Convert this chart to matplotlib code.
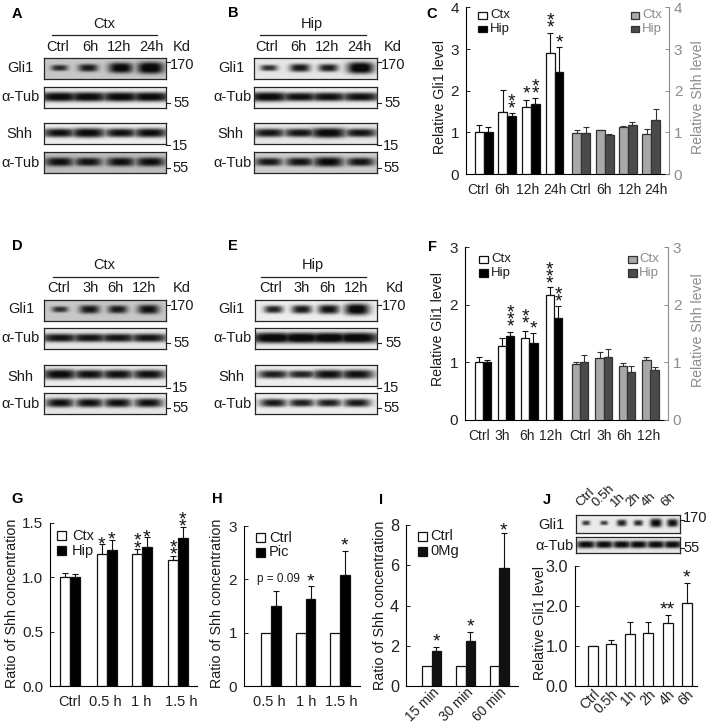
#recreate multi panel figure: western blots and bar charts
import numpy as np
import matplotlib
matplotlib.use('Agg')
import matplotlib.pyplot as plt
from matplotlib.lines import Line2D
from matplotlib.patches import Rectangle

plt.rcParams['font.family'] = ['Liberation Sans', 'DejaVu Sans']

W, H = 709, 726

# blot band strengths (0-1), one per lane
blot_a = [[.25, .45, .8, .95], [.7, .7, .7, .7], [.6, .7, .6, .65], [.6, .55, .6, .62]]
blot_b = [[.25, .5, .45, .95], [.7, .6, .6, .6], [.55, .55, .75, .55], [.5, .55, .7, .55]]
blot_d = [[.2, .5, .45, .6], [.55, .55, .55, .55], [.7, .6, .6, .6], [.6, .6, .6, .6]]
blot_e = [[.4, .5, .6, .85], [.85, .85, .85, .85], [.45, .4, .6, .6], [.5, .45, .45, .5]]
blot_j = [[.15, .1, .4, .3, .7, .6], [.7, .7, .7, .7, .7, .7]]

# panel C
labels_c = ['Ctrl', '6h', '12h', '24h', 'Ctrl', '6h', '12h', '24h']
c_gli_ctx = [1.0, 1.5, 1.6, 2.9]
c_gli_ctx_err = [.17, .52, .18, .48]
c_gli_hip = [1.0, 1.4, 1.67, 2.45]
c_gli_hip_err = [.12, .07, .15, .6]
c_shh_ctx = [.98, 1.05, 1.13, .97]
c_shh_ctx_err = [.07, .01, .02, .10]
c_shh_hip = [.99, .93, 1.18, 1.3]
c_shh_hip_err = [.14, .04, .06, .27]

# panel F
labels_f = ['Ctrl', '3h', '6h', '12h', 'Ctrl', '3h', '6h', '12h']
f_gli_ctx = [1.01, 1.29, 1.43, 2.17]
f_gli_ctx_err = [.08, .13, .11, .14]
f_gli_hip = [1.01, 1.46, 1.34, 1.78]
f_gli_hip_err = [.03, .07, .17, .2]
f_shh_ctx = [.98, 1.08, .94, 1.05]
f_shh_ctx_err = [.02, .1, .05, .04]
f_shh_hip = [1.01, 1.10, .84, .87]
f_shh_hip_err = [.12, .13, .09, .05]

# panel G
labels_g = ['Ctrl', '0.5 h', '1 h', '1.5 h']
g_ctx = [1.0, 1.21, 1.21, 1.16]
g_ctx_err = [.04, .09, .05, .03]
g_hip = [1.0, 1.25, 1.28, 1.36]
g_hip_err = [.03, .09, .09, .10]

# panel H
labels_h = ['0.5 h', '1 h', '1.5 h']
h_ctrl = [1, 1, 1]
h_pic = [1.5, 1.64, 2.08]
h_pic_err = [.28, .24, .45]

# panel I
labels_i = ['15 min', '30 min', '60 min']
i_ctrl = [1, 1, 1]
i_mg = [1.72, 2.22, 5.85]
i_mg_err = [.23, .46, 1.75]

# panel J
labels_j = ['Ctrl', '0.5h', '1h', '2h', '4h', '6h']
j_gli = [1, 1.06, 1.31, 1.34, 1.58, 2.09]
j_gli_err = [0, .11, .29, .26, .2, .5]

fig = plt.figure(figsize=(W / 100, H / 100), dpi=100, facecolor='white')


def txt(x, y, s, size=10.5, color='#1a1a1a', ha='center', va='center', **kw):
    return fig.text(x / W, 1 - y / H, s, fontsize=size, color=color, ha=ha, va=va, **kw)


def hline(x0, y0, x1, y1, color='#222222', lw=0.8):
    fig.add_artist(Line2D([x0 / W, x1 / W], [1 - y0 / H, 1 - y1 / H], color=color, lw=lw))


# draw one blot strip from band strengths
def blot(left, top, right, bottom, lanes, strengths, bg, wide=1.0):
    ax = fig.add_axes([left / W, 1 - bottom / H, (right - left) / W, (bottom - top) / H])
    w, h = int(right - left) * 3, int(bottom - top) * 3
    xx, yy = np.meshgrid(np.linspace(0, 1, w), np.linspace(0, 1, h))
    dark = np.zeros_like(xx)
    for c, s in zip(lanes, strengths):
        hw = (.055 + .055 * s) * wide
        hh = .10 + .19 * s
        d = (.7 + .4 * s) * np.exp(-np.abs((xx - c) / hw) ** 3 - np.abs((yy - .47) / hh) ** 3)
        dark = np.maximum(dark, d)
    img = bg * (1 - np.clip(dark, 0, .95))
    ax.imshow(img, cmap='gray', vmin=0, vmax=1, aspect='auto', extent=(0, 1, 1, 0), interpolation='bilinear')
    ax.set_xticks([])
    ax.set_yticks([])
    for s in ax.spines.values():
        s.set_linewidth(0.9)
        s.set_color('#262626')


# group of four blot strips with all their labels
def blot_panel(x0, x1, ys, lanes, rows, bgs, lane_xs, lane_names, lane_y, row_xs, row_ys, mark_x, mark_ys, kd_x, title, title_x, title_y, line):
    for (t, b), row, bg, wide in zip(ys, rows, bgs, [1, 1.9, 1.6, 1.35]):
        blot(x0, t, x1, b, lanes, row, bg, wide)
    for x, s in zip(lane_xs, lane_names):
        txt(x, lane_y, s)
    txt(kd_x, lane_y, 'Kd')
    for x, y, s in zip(row_xs, row_ys, ['Gli1', 'α-Tub', 'Shh', 'α-Tub']):
        txt(x, y, s)
    for x, (ty, y), s in zip(mark_x, mark_ys, ['170', '55', '15', '55']):
        hline(x1, ty, x1 + 4, ty)
        txt(x, y, s)
    txt(title_x, title_y, title)
    hline(line[0], line[2], line[1], line[2], lw=0.9)


# axes placed in pixel coordinates
def make_axis(left, top, right, bottom, xlim, ylim, yticks, ylabs, xticks, xlabs, ysize=11, xsize=10, xpad=6.5):
    ax = fig.add_axes([left / W, 1 - bottom / H, (right - left) / W, (bottom - top) / H])
    ax.set_xlim(*xlim)
    ax.set_ylim(*ylim)
    ax.set_yticks(yticks)
    ax.set_yticklabels(ylabs)
    ax.set_xticks(xticks)
    ax.set_xticklabels(xlabs)
    ax.tick_params(axis='y', direction='in', length=3, width=0.7, labelsize=ysize, pad=5, colors='#222222')
    ax.tick_params(axis='x', length=0, labelsize=xsize, pad=xpad, colors='#222222')
    ax.spines['top'].set_visible(False)
    ax.spines['right'].set_visible(False)
    ax.spines['left'].set_linewidth(0.8)
    ax.spines['bottom'].set_linewidth(0.8)
    ax.patch.set_alpha(0)
    return ax


def bars(ax, xs, vals, errs, width, face, edge='#111111'):
    ax.bar(xs, vals, width, color=face, edgecolor=edge, linewidth=0.9, zorder=3)
    if errs is not None:
        ax.errorbar(xs, vals, yerr=[np.zeros(len(errs)), errs], fmt='none', ecolor=edge,
                    elinewidth=0.8, capsize=2, capthick=0.8, zorder=2)


# stars centred on a data height, stacked upward
def stars(ax, xs, counts, ys, step=7.2, size=14):
    off = size * 100 / 72 * 0.58
    for x, n, y in zip(xs, counts, ys):
        for k in range(n):
            ax.annotate('*', xy=(x, y), xytext=(0, k * step - off), textcoords='offset pixels',
                        ha='center', va='baseline', fontsize=size, color='#111111', annotation_clip=False)


def legend_key(x0, y0, x1, y1, face, label, tx, color='#1a1a1a', edge='#111111', size=9.5):
    fig.add_artist(Rectangle((x0 / W, 1 - y1 / H), (x1 - x0) / W, (y1 - y0) / H, transform=fig.transFigure,
                             facecolor=face, edgecolor=edge, linewidth=0.9))
    txt(tx, (y0 + y1) / 2, label, size=size, color=color, ha='left')


def gray_axis(ax, top, ticks, size=11):
    ax2 = ax.twinx()
    ax2.set_ylim(0, top)
    ax2.set_yticks(ticks)
    ax2.tick_params(axis='y', direction='in', length=3, width=0.7, labelsize=size, pad=3.5, colors='#8c8c8c')
    for s in ['top', 'left', 'bottom']:
        ax2.spines[s].set_visible(False)
    ax2.spines['right'].set_color('#8c8c8c')
    return ax2


# blots A, B, D, E
names_ab = ['Ctrl', '6h', '12h', '24h']
names_de = ['Ctrl', '3h', '6h', '12h']
ys_top = [(58, 79), (87, 108), (123, 144), (152, 173)]
ys_mid = [(300, 321), (328, 349), (365, 386), (393, 414)]
row_y_top = [68, 97, 134, 163]
row_y_mid = [309, 338, 377, 404]
mark_top = [(62, 65), (103, 103), (145, 146), (168, 168)]
mark_mid = [(305, 306), (343, 343), (388, 388), (408, 408)]

blot_panel(44, 166, ys_top, [.126, .359, .625, .866], blot_a, [.78, .93, .93, .74],
           [58, 90, 119, 151], names_ab, 47, [20, 21, 19, 21], row_y_top,
           [182, 182, 180, 181], mark_top, 182, 'Ctx', 104, 24, (52, 157, 35))
blot_panel(254, 377, ys_top, [.12, .37, .6, .86], blot_b, [.9, .93, .9, .8],
           [267, 298, 327, 359], names_ab, 47, [231, 232, 230, 232], row_y_top,
           [393, 393, 391, 392], mark_top, 393, 'Hip', 312, 24, (260, 366, 35))
blot_panel(44, 166, ys_mid, [.13, .37, .6, .85], blot_d, [.78, .9, .93, .9],
           [59, 91, 115, 144], names_de, 288, [21, 21, 20, 21], row_y_mid,
           [182, 182, 180, 181], mark_mid, 182, 'Ctx', 104, 265, (53, 158, 277))
blot_panel(255, 377, ys_mid, [.15, .38, .6, .83], blot_e, [.93, .93, .93, .93],
           [271, 302, 327, 356], names_de, 288, [231, 232, 231, 232], row_y_mid,
           [394, 394, 391, 392], mark_mid, 395, 'Hip', 313, 265, (261, 366, 277))

# panel C
pos_c = np.array([0, 1, 2, 3, 4.14, 5.13, 6.11, 7.1])
tick_c = [-.24, .76, 1.85, 3.01, 4.07, 5.1, 6.18, 7.28]
ax = make_axis(466, 7.5, 669, 174, (-.75, 7.85), (0, 4), [0, 1, 2, 3, 4], ['0', '1', '2', '3', '4'], tick_c, labels_c)
bars(ax, pos_c[:4] - .19, c_gli_ctx, c_gli_ctx_err, .38, 'white')
bars(ax, pos_c[:4] + .19, c_gli_hip, c_gli_hip_err, .38, '#000000')
bars(ax, pos_c[4:] - .19, c_shh_ctx, c_shh_ctx_err, .38, '#a8a8a8', '#333333')
bars(ax, pos_c[4:] + .19, c_shh_hip, c_shh_hip_err, .38, '#4a4a4a', '#333333')
stars(ax, pos_c[:4] - .19, [0, 0, 1, 2], [0, 0, 2.08, 3.66])
stars(ax, pos_c[:4] + .19, [0, 2, 2, 1], [0, 1.72, 2.08, 3.30])
gray_axis(ax, 4, [0, 1, 2, 3, 4])
txt(440, 97, 'Relative Gli1 level', size=10.2, rotation=90)
txt(698, 97, 'Relative Shh level', size=10.2, color='#8c8c8c', rotation=90)
legend_key(478, 12, 487, 19, 'white', 'Ctx', 490)
legend_key(478, 26, 487, 32, '#000000', 'Hip', 490)
legend_key(631, 12, 639, 19, '#a8a8a8', 'Ctx', 642, color='#8c8c8c', edge='#333333')
legend_key(631, 26, 639, 32, '#4a4a4a', 'Hip', 642, color='#8c8c8c', edge='#333333')

# panel F
pos_f = np.array([0, .97, 1.96, 3.0, 4.11, 5.1, 6.08, 7.08])
tick_f = [-.18, .80, 1.85, 2.87, 4.1, 5.13, 5.97, 7.0]
ax = make_axis(465, 247.3, 668, 420, (-.76, 7.82), (0, 3), [0, 1, 2, 3], ['0', '1', '2', '3'], tick_f, labels_f)
bars(ax, pos_f[:4] - .172, f_gli_ctx, f_gli_ctx_err, .345, 'white')
bars(ax, pos_f[:4] + .172, f_gli_hip, f_gli_hip_err, .345, '#000000')
bars(ax, pos_f[4:] - .172, f_shh_ctx, f_shh_ctx_err, .345, '#a8a8a8', '#333333')
bars(ax, pos_f[4:] + .172, f_shh_hip, f_shh_hip_err, .345, '#4a4a4a', '#333333')
stars(ax, pos_f[:4] - .172, [0, 0, 2, 3], [0, 0, 1.78, 2.48])
stars(ax, pos_f[:4] + .172, [0, 3, 1, 2], [0, 1.73, 1.70, 2.16])
gray_axis(ax, 3, [0, 1, 2, 3])
txt(438, 329, 'Relative Gli1 level', size=10.2, rotation=90)
txt(698, 330, 'Relative Shh level', size=10.2, color='#8c8c8c', rotation=90)
legend_key(479, 256, 488, 263, 'white', 'Ctx', 491)
legend_key(479, 269, 488, 277, '#000000', 'Hip', 491)
legend_key(628, 256, 637, 263, '#a8a8a8', 'Ctx', 639, color='#8c8c8c', edge='#333333')
legend_key(628, 269, 637, 277, '#4a4a4a', 'Hip', 639, color='#8c8c8c', edge='#333333')

# panel G
pos_g = np.array([0, 1.02, 2, 3])
ax = make_axis(50, 522.7, 197, 686, (-.556, 3.53), (0, 1.5), [0, .5, 1, 1.5], ['0.0', '0.5', '1.0', '1.5'],
               [0, .98, 1.98, 3.08], labels_g, xsize=10.5)
bars(ax, pos_g - .137, g_ctx, g_ctx_err, .275, 'white')
bars(ax, pos_g + .137, g_hip, g_hip_err, .275, '#000000')
stars(ax, pos_g - .137, [0, 1, 2, 2], [0, 1.356, 1.325, 1.264])
stars(ax, pos_g + .137, [0, 1, 1, 2], [0, 1.40, 1.426, 1.524])
txt(12, 603, 'Ratio of Shh concentration', size=10.3, rotation=90)
legend_key(57, 531, 66, 540, 'white', 'Ctx', 72, size=10.5)
legend_key(57, 546, 66, 555, '#000000', 'Hip', 72, size=10.5)

# panel H
pos_h = np.array([0, 1.01, 2])
ax = make_axis(244, 526, 360, 686, (-.787, 2.59), (0, 3), [0, 1, 2, 3], ['0', '1', '2', '3'],
               [-.05, 1.02, 2.03], labels_h, xsize=10.5)
bars(ax, pos_h - .142, h_ctrl, None, .285, 'white')
bars(ax, pos_h + .142, h_pic, h_pic_err, .285, '#000000')
stars(ax, pos_h + .142, [0, 1, 1], [0, 2.07, 2.75])
txt(278, 579, 'p = 0.09', size=8.5)
txt(217, 603, 'Ratio of Shh concentration', size=10.3, rotation=90)
legend_key(256, 533, 265, 542, 'white', 'Ctrl', 269, size=10.5)
legend_key(256, 548, 265, 557, '#000000', 'Pic', 269, size=10.5)

# panel I
pos_i = np.array([0, 1.01, 2])
ax = make_axis(406, 525.3, 518, 685.7, (-.76, 2.56), (0, 8), [0, 2, 4, 6, 8], ['0', '2', '4', '6', '8'],
               pos_i + .16, labels_i, ysize=11.7, xsize=9.8, xpad=3.5)
bars(ax, pos_i - .14, i_ctrl, None, .28, 'white')
bars(ax, pos_i + .14, i_mg, i_mg_err, .28, '#111111')
stars(ax, pos_i + .14, [1, 1, 1], [2.5, 3.28, 8.04])
ax.set_xticklabels(labels_i, rotation=45, ha='right', va='center', rotation_mode='anchor')
txt(380, 605, 'Ratio of Shh concentration', size=10.3, rotation=90)
legend_key(418, 532, 427, 541, 'white', 'Ctrl', 430, size=10.5)
legend_key(418, 547, 427, 556, '#111111', '0Mg', 430, size=10.5)

# panel J
pos_j = np.array([0, .95, 1.95, 2.95, 3.98, 5])
ax = make_axis(575, 566.3, 697, 686.3, (-.98, 5.55), (0, 3), [0, 1, 2, 3], ['0.0', '1.0', '2.0', '3.0'],
               pos_j + .25, labels_j, ysize=11.7, xsize=10, xpad=4)
bars(ax, pos_j, j_gli, j_gli_err, .54, 'white')
stars(ax, pos_j, [0, 0, 0, 0, 0, 1], [0, 0, 0, 0, 0, 2.89])
ax.annotate('**', xy=(pos_j[4], 2.06), xytext=(0, -11), textcoords='offset pixels', ha='center', va='baseline', fontsize=14, color='#111111')
ax.set_xticklabels(labels_j, rotation=45, ha='right', va='center', rotation_mode='anchor')
txt(540, 623, 'Relative Gli1 level', size=10.2, rotation=90)

lanes_j = [.096, .27, .44, .6, .77, .93]
blot(576, 515, 680, 533, lanes_j, blot_j[0], .92, .62)
blot(576, 537, 680, 553, lanes_j, blot_j[1], .9, 1.0)
for x, s in zip([582, 599, 617, 632, 648, 667], labels_j):
    fig.text(x / W, 1 - 509 / H, s, fontsize=9.5, color='#1a1a1a', rotation=45, ha='left', va='bottom', rotation_mode='anchor')
txt(551, 525, 'Gli1')
txt(554, 546, 'α-Tub')
hline(680, 520, 684, 520)
hline(680, 548, 684, 548)
txt(695, 518, '170')
txt(692, 548, '55')

# panel letters
for x, y, s in [(17, 14, 'A'), (233, 13, 'B'), (432, 14, 'C'), (17, 246, 'D'), (233, 246, 'E'),
                (432, 247, 'F'), (17, 499, 'G'), (217, 499, 'H'), (381, 500, 'I'), (547, 500, 'J')]:
    txt(x, y, s, size=10.5, color='black', fontweight='bold')

fig.savefig('out.png', dpi=100)
